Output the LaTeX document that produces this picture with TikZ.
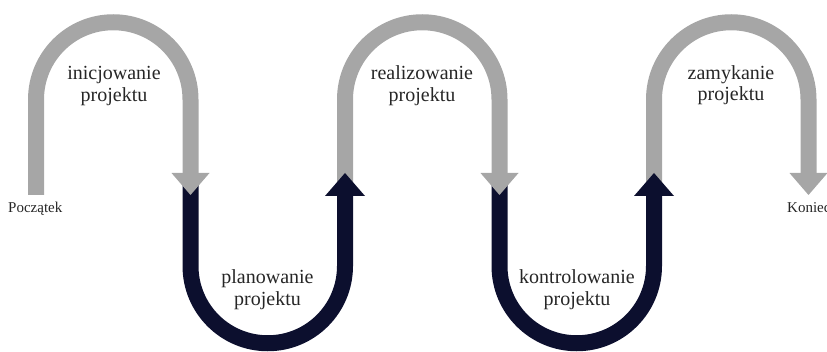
\documentclass[tikz,border=0pt]{standalone}
\usepackage{fontspec}
\setmainfont{Liberation Serif}
\definecolor{stepgrey}{HTML}{A6A6A6}
\definecolor{stepnavy}{HTML}{0C0F2E}
\begin{document}
\begin{tikzpicture}[x=1pt,y=1pt,
  band/.style={line width=16pt},
  greyband/.style={band,draw=stepgrey},
  navyband/.style={band,draw=stepnavy},
  phase/.style={font=\fontsize{20}{22}\selectfont,text=black!85,anchor=base,inner sep=0pt},
  endlabel/.style={font=\fontsize{15}{17}\selectfont,text=black!85,anchor=base west,inner sep=0pt}]
\clip (0,0) rectangle (827,351);

% leg positions of the serpentine band
\coordinate (l0) at (36,0);
\coordinate (l1) at (190.5,0);
\coordinate (l2) at (345,0);
\coordinate (l3) at (499.5,0);
\coordinate (l4) at (654,0);
\coordinate (l5) at (808.5,0);

% grey upper loops
\draw[greyband] (l0 |- 0,156) -- (l0 |- 0,251.5) arc[start angle=180,end angle=0,radius=77.25] -- (l1 |- 0,177);
\draw[greyband] (l2 |- 0,166) -- (l2 |- 0,251.5) arc[start angle=180,end angle=0,radius=77.25] -- (l3 |- 0,177);
\draw[greyband] (l4 |- 0,166) -- (l4 |- 0,251.5) arc[start angle=180,end angle=0,radius=77.25] -- (l5 |- 0,177);

% navy lower loops
\draw[navyband] (l1 |- 0,166) -- (l1 |- 0,85) arc[start angle=180,end angle=360,radius=77.25] -- (l2 |- 0,157);
\draw[navyband] (l3 |- 0,166) -- (l3 |- 0,85) arc[start angle=180,end angle=360,radius=77.25] -- (l4 |- 0,157);

% arrow heads: grey pointing down, navy pointing up
\foreach \c in {l1,l3,l5}
  \fill[stepgrey] ([xshift=-19pt]\c |- 0,178) -- ([xshift=19pt]\c |- 0,178) -- (\c |- 0,156) -- cycle;
\foreach \c in {l2,l4}
  \fill[stepnavy] ([xshift=-20pt]\c |- 0,155) -- ([xshift=20pt]\c |- 0,155) -- (\c |- 0,178) -- cycle;

% phase labels
\node[phase] (ini1) at (114,271) {inicjowanie};
\node[phase] (ini2) at (114,249) {projektu};
\node[phase] (pla1) at (267.5,68) {planowanie};
\node[phase] (pla2) at (267.5,46) {projektu};
\node[phase] (rea1) at (422,271) {realizowanie};
\node[phase] (rea2) at (422,249) {projektu};
\node[phase] (kon1) at (577,68) {kontrolowanie};
\node[phase] (kon2) at (577,46) {projektu};
\node[phase] (zam1) at (731,271) {zamykanie};
\node[phase] (zam2) at (731,250) {projektu};

% start and end labels
\node[endlabel] (start) at (8,138) {Początek};
\node[endlabel] (end) at (787,138) {Koniec};
\end{tikzpicture}
\end{document}
